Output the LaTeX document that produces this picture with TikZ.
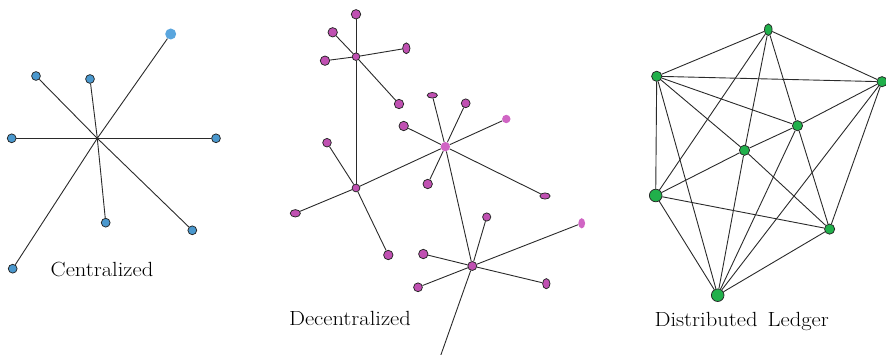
\documentclass[tikz,border=0pt]{standalone}
\usetikzlibrary{shapes.geometric}

\definecolor{bluenode}{HTML}{4A98CE}
\definecolor{bluelight}{HTML}{5AA6DE}
\definecolor{purplenode}{HTML}{C050B2}
\definecolor{pinklight}{HTML}{D065C4}
\definecolor{greennode}{HTML}{21B04B}
\definecolor{edgegray}{HTML}{2A2A2A}

\tikzset{
  dot/.style={circle, draw=black!85, line width=0.75pt, inner sep=0pt, minimum size=#1},
  oval/.style n args={2}{ellipse, draw=black!85, line width=0.75pt, inner sep=0pt,
    minimum width=#1, minimum height=#2},
  plain/.style={circle, draw=none, inner sep=0pt, minimum size=#1},
  plainoval/.style n args={2}{ellipse, draw=none, inner sep=0pt,
    minimum width=#1, minimum height=#2},
  link/.style={draw=edgegray, line width=0.9pt},
  caption/.style={anchor=base, inner sep=0pt, xscale=1.1,
    font=\fontsize{20.5}{24}\selectfont}
}

\begin{document}
\begin{tikzpicture}[x=1pt, y=-1pt]
\useasboundingbox (0,0) rectangle (886,355);

% ---------- Centralized: star around one hub ----------
\coordinate (hub) at (97.3,138.3);
\begin{scope}[every node/.style={dot=8.8pt, fill=bluenode}]
  \node (c1) at (36,76) {};
  \node (c2) at (90,79) {};
  \node (c3) at (11.7,138.3) {};
  \node (c4) at (216,138.3) {};
  \node (c5) at (105.7,222.7) {};
  \node (c6) at (192.3,230.3) {};
  \node (c7) at (12.7,268.7) {};
\end{scope}
\node[plain=11pt, fill=bluelight] (c0) at (170.7,34) {};
\foreach \n in {c0,c1,c2,c3,c4,c5,c6,c7}
  \draw[link] (hub) -- (\n);
\node[caption] (lc) at (102,276.7) {Centralized};

% ---------- Decentralized: linked local hubs ----------
\begin{scope}[every node/.style={fill=purplenode}]
  % hub A and its leaves
  \node[dot=7.6pt] (A) at (356,56.7) {};
  \node[dot=9.4pt] (a1) at (356,14.3) {};
  \node[dot=9.4pt] (a2) at (332.7,32.3) {};
  \node[dot=9.4pt] (a3) at (325,60.7) {};
  \node[oval={7.4pt}{10.8pt}] (a4) at (406.3,48.3) {};
  \node[dot=9.4pt] (a5) at (399,104) {};
  % hub B and its leaves
  \node[dot=7.8pt] (B) at (356,188) {};
  \node[dot=8.6pt] (b1) at (327,142.7) {};
  \node[oval={10.2pt}{7.4pt}] (b2) at (295.3,213.3) {};
  \node[dot=9.4pt] (b3) at (388.3,255) {};
  % hub C and its leaves
  \node[oval={10.2pt}{5.6pt}] (c1x) at (432.3,95.3) {};
  \node[dot=8.8pt] (c2x) at (465.7,103.3) {};
  \node[dot=9.4pt] (c4x) at (403.7,126) {};
  \node[dot=9.4pt] (c5x) at (427.7,184) {};
  \node[oval={10.2pt}{6.2pt}] (c6x) at (545,196) {};
  % hub D and its leaves
  \node[dot=9pt] (D) at (472.3,266) {};
  \node[dot=8.2pt] (d1) at (486.7,217) {};
  \node[dot=9.4pt] (d3) at (423.3,254) {};
  \node[dot=8.8pt] (d4) at (418,287.3) {};
  \node[oval={7.4pt}{10.2pt}] (d5) at (546.3,283.7) {};
\end{scope}
\node[plain=9.4pt, fill=pinklight] (C) at (445.3,146.7) {};
\node[plain=8.4pt, fill=pinklight] (c3x) at (506.3,119) {};
\node[plainoval={6.8pt}{10.2pt}, fill=pinklight] (d2) at (581.7,223.3) {};
\coordinate (dout) at (440.5,356);

\foreach \n in {a1,a2,a3,a4,a5,B} \draw[link] (A) -- (\n);
\foreach \n in {b1,b2,b3,C} \draw[link] (B) -- (\n);
\foreach \n in {c1x,c2x,c3x,c4x,c5x,c6x,D} \draw[link] (C) -- (\n);
\foreach \n in {d1,d2,d3,d4,d5,dout} \draw[link] (D) -- (\n);
\node[caption] (ld) at (350,326) {Decentralized};

% ---------- Distributed ledger: densely meshed peers ----------
\begin{scope}[every node/.style={fill=greennode}]
  \node[oval={7.6pt}{11.6pt}] (n1) at (768.3,29.7) {};
  \node[dot=10.2pt] (n2) at (656.7,76.3) {};
  \node[dot=10.2pt] (n3) at (882,81.7) {};
  \node[dot=10.2pt] (n4) at (797.5,125.7) {};
  \node[dot=10.2pt] (n5) at (744.5,150.3) {};
  \node[dot=12.6pt] (n6) at (655.7,195.5) {};
  \node[dot=10.2pt] (n7) at (829.6,229.1) {};
  \node[dot=12.6pt] (n8) at (717.7,295.2) {};
\end{scope}
\foreach \a/\b in {n1/n2,n1/n3,n1/n4,n1/n5,n1/n6,
                   n2/n3,n2/n4,n2/n5,n2/n6,n2/n8,
                   n3/n4,n3/n7,n3/n8,
                   n4/n5,n4/n7,n4/n8,
                   n5/n6,n5/n7,n5/n8,
                   n6/n7,n6/n8,n7/n8}
  \draw[link] (\a) -- (\b);
\node[caption] (ll) at (741.7,326.7) {Distributed\hspace{0.45em}Ledger};
\end{tikzpicture}
\end{document}
